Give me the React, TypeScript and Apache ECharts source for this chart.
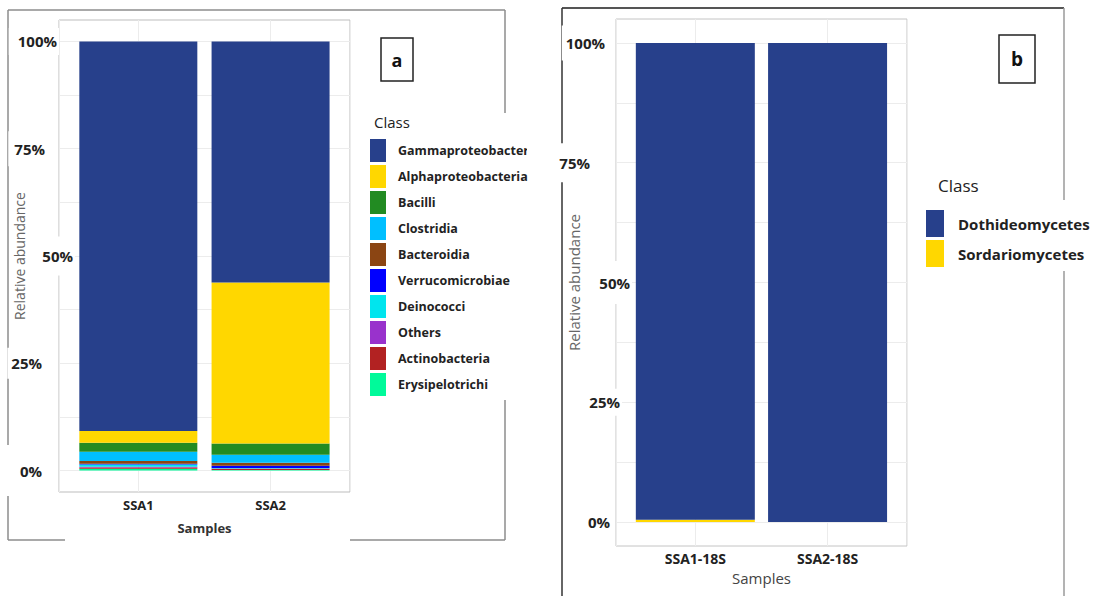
import React, { useEffect, useRef } from 'react';
import * as echarts from 'echarts';

// ---------- data ----------
const classesA = [
  'Gammaproteobacteria',
  'Alphaproteobacteria',
  'Bacilli',
  'Clostridia',
  'Bacteroidia',
  'Verrucomicrobiae',
  'Deinococci',
  'Others',
  'Actinobacteria',
  'Erysipelotrichi',
];
const colorsA = ['#27408B', '#FFD700', '#228B22', '#00BFFF', '#8B4513', '#0000FF', '#00E5EE', '#9932CC', '#B22222', '#00FA9A'];
const samplesA = ['SSA1', 'SSA2'];
const ssa1Values = [90.8, 2.7, 2.1, 2.2, 0.6, 0.2, 0.5, 0.2, 0.3, 0.4];
const ssa2Values = [56.2, 37.5, 2.6, 1.9, 0.7, 0.5, 0.1, 0.1, 0.3, 0.1];

const classesB = ['Dothideomycetes', 'Sordariomycetes'];
const colorsB = ['#27408B', '#FFD700'];
const samplesB = ['SSA1-18S', 'SSA2-18S'];
const ssa1_18sValues = [99.5, 0.5];
const ssa2_18sValues = [100, 0];

const yTickLabels = [0, 25, 50, 75, 100];
const yGridValues = [0, 12.5, 25, 37.5, 50, 62.5, 75, 87.5, 100];

// ---------- helpers ----------
const FONT = 'Open Sans';

function sampleFormatter(samples: string[]) {
  return (v: number) => {
    const r = Math.round(v);
    if (Math.abs(v - r) > 1e-6) return '';
    return samples[r - 1] ?? '';
  };
}

function yLabelRich(spacers: Record<number, number>, pads: Record<number, number[]>) {
  const rich: any = {};
  yTickLabels.forEach((t) => {
    rich['t' + t] = {
      fontFamily: FONT,
      fontWeight: 'bold',
      fontSize: 15,
      color: '#222',
      backgroundColor: '#fff',
      padding: pads[t],
    };
    if (spacers[t] > 0) rich['s' + t] = { width: spacers[t], fontSize: 15 };
  });
  return rich;
}

function yFormatter(spacers: Record<number, number>) {
  return (v: number) => {
    const r = Math.round(v);
    const sp = spacers[r] > 0 ? `{s${r}| }` : '';
    return `{t${r}|${r}%}${sp}`;
  };
}

const spacersA: Record<number, number> = { 0: 31, 25: 31, 50: 0, 75: 28, 100: 16 };
const padsA: Record<number, number[]> = {
  0: [18, 2, 18, 14],
  25: [8, 2, 8, 4],
  50: [12, 2, 12, 2],
  75: [10, 2, 10, 6],
  100: [6, 2, 6, 9],
};
const spacersB: Record<number, number> = { 0: 20, 25: 10, 50: 0, 75: 40, 100: 25 };
const padsB: Record<number, number[]> = {
  0: [4, 2, 4, 2],
  25: [6, 2, 6, 2],
  50: [14, 2, 14, 2],
  75: [12, 2, 12, 6],
  100: [10, 2, 10, 4],
};

export default function App() {
  const ref = useRef<HTMLDivElement>(null);

  useEffect(() => {
    if (!ref.current) return;
    const chart = echarts.init(ref.current, undefined, { renderer: 'svg' });

    const seriesA = classesA
      .map((name, i) => ({
        name,
        type: 'bar',
        xAxisIndex: 2,
        yAxisIndex: 2,
        stack: 'a',
        barWidth: 118,
        itemStyle: { color: colorsA[i] },
        data: [ssa1Values[i], ssa2Values[i]],
      }))
      .reverse();

    const seriesB = classesB
      .map((name, i) => ({
        name,
        type: 'bar',
        xAxisIndex: 3,
        yAxisIndex: 3,
        stack: 'b',
        barWidth: 119,
        itemStyle: { color: colorsB[i] },
        data: [ssa1_18sValues[i], ssa2_18sValues[i]],
      }))
      .reverse();

    const gridLine = { show: true, lineStyle: { color: '#ececec', width: 1 } };

    const makeX = (gridIndex: number, samples: string[], labelSize: number, nameStyle: any, nameGap: number, labelMargin: number) => ({
      type: 'value',
      gridIndex,
      min: 0.4,
      max: 2.6,
      splitNumber: 2,
      axisLine: { show: false },
      axisTick: { show: false },
      splitLine: gridLine,
      axisLabel: {
        formatter: sampleFormatter(samples),
        fontFamily: FONT,
        fontWeight: 'bold',
        fontSize: labelSize,
        color: '#222',
        margin: labelMargin,
      },
      name: 'Samples',
      nameLocation: 'middle',
      nameGap,
      nameMoveOverlap: false,
      nameTextStyle: nameStyle,
    });

    const makeY = (gridIndex: number, spacers: any, pads: any, nameGap: number, nameSize: number) => ({
      type: 'value',
      gridIndex,
      min: -5,
      max: 105,
      axisLine: { show: false },
      axisTick: { show: false, customValues: yGridValues },
      splitLine: gridLine,
      axisLabel: {
        customValues: yTickLabels,
        formatter: yFormatter(spacers),
        rich: yLabelRich(spacers, pads),
        margin: -16,
      },
      name: 'Relative abundance',
      nameLocation: 'middle',
      nameGap,
      nameMoveOverlap: false,
      nameTextStyle: { fontFamily: FONT, fontSize: nameSize, color: '#666' },
    });

    const barX = (gridIndex: number, samples: string[]) => ({
      type: 'category',
      gridIndex,
      data: samples,
      show: false,
    });
    const barY = (gridIndex: number) => ({
      type: 'value',
      gridIndex,
      min: -5,
      max: 105,
      show: false,
      splitLine: { show: false },
    });

    const frameLine = (x1: number, y1: number, x2: number, y2: number, color: string, w: number) => ({
      type: 'line',
      z: -1,
      shape: { x1, y1, x2, y2 },
      style: { stroke: color, lineWidth: w },
      silent: true,
    });

    chart.setOption({
      animation: false,
      backgroundColor: '#fff',
      textStyle: { fontFamily: FONT },
      title: [
        { text: 'Class', left: 369, top: 109, textStyle: { fontFamily: FONT, fontSize: 15, fontWeight: 'normal', color: '#222' } },
        { text: 'Class', left: 933, top: 172, textStyle: { fontFamily: FONT, fontSize: 17, fontWeight: 'normal', color: '#222' } },
      ],
      grid: [
        { left: 59, top: 20, width: 291, height: 472, show: true, borderColor: '#bdbdbd', borderWidth: 1, backgroundColor: 'transparent', outerBoundsMode: 'none', containLabel: false },
        { left: 616, top: 19, width: 291, height: 527, show: true, borderColor: '#c4c4c4', borderWidth: 1, backgroundColor: 'transparent', outerBoundsMode: 'none', containLabel: false },
        { left: 72.2, top: 20, width: 264.5, height: 472, outerBoundsMode: 'none', containLabel: false },
        { left: 629.2, top: 19, width: 264.5, height: 527, outerBoundsMode: 'none', containLabel: false },
      ],
      xAxis: [
        makeX(0, samplesA, 13, { fontFamily: FONT, fontSize: 13, fontWeight: 'bold', color: '#333' }, 29, 6),
        makeX(1, samplesB, 14, { fontFamily: FONT, fontSize: 15, fontWeight: 'normal', color: '#444' }, 24, 5),
        barX(2, samplesA),
        barX(3, samplesB),
      ],
      yAxis: [makeY(0, spacersA, padsA, 33, 14), makeY(1, spacersB, padsB, 35, 15), barY(2), barY(3)],
      legend: [
        {
          data: classesA,
          orient: 'vertical',
          left: 366,
          top: 113,
          padding: [26, 4, 4, 4],
          itemWidth: 16,
          itemHeight: 23,
          itemGap: 3,
          icon: 'rect',
          selectedMode: false,
          backgroundColor: '#fff',
          textStyle: { fontFamily: FONT, fontSize: 12.5, fontWeight: 'bold', color: '#222', padding: [0, 0, 0, 7] },
        },
        {
          data: classesB,
          orient: 'vertical',
          left: 922,
          top: 200,
          padding: [10, 4, 4, 4],
          itemWidth: 18,
          itemHeight: 27,
          itemGap: 3,
          icon: 'rect',
          selectedMode: false,
          backgroundColor: '#fff',
          textStyle: { fontFamily: FONT, fontSize: 15, fontWeight: 'bold', color: '#222', padding: [0, 0, 0, 9] },
        },
      ],
      graphic: [
        // panel a frame
        frameLine(8, 10, 505, 10, '#8c8c8c', 1.5),
        frameLine(8, 10, 8, 540, '#8c8c8c', 1.5),
        frameLine(505, 10, 505, 540, '#8c8c8c', 1.5),
        frameLine(8, 540, 65, 540, '#8c8c8c', 1.5),
        frameLine(350, 540, 505, 540, '#8c8c8c', 1.5),
        // panel b frame
        frameLine(562, 8, 1064, 8, '#555', 2),
        frameLine(562, 8, 562, 596, '#333', 1.5),
        frameLine(1064, 8, 1064, 596, '#9a9a9a', 1.5),
        // panel letter boxes
        { type: 'rect', z: 10, shape: { x: 381, y: 38, width: 32, height: 43 }, style: { fill: '#fff', stroke: '#222', lineWidth: 1.5 } },
        { type: 'text', z: 11, x: 397, y: 60, style: { text: 'a', fontFamily: FONT, fontSize: 18, fontWeight: 'bold', fill: '#111', align: 'center', verticalAlign: 'middle' } },
        { type: 'rect', z: 10, shape: { x: 999, y: 35, width: 36, height: 48 }, style: { fill: '#fff', stroke: '#222', lineWidth: 1.5 } },
        { type: 'text', z: 11, x: 1017, y: 59, style: { text: 'b', fontFamily: FONT, fontSize: 19, fontWeight: 'bold', fill: '#111', align: 'center', verticalAlign: 'middle' } },
        // white strip where panel b's image overlaps the legend of panel a
        { type: 'rect', z: 100, shape: { x: 527, y: 135, width: 29, height: 38 }, style: { fill: '#fff' }, silent: true },
      ],
      series: [...seriesA, ...seriesB],
    });

    return () => chart.dispose();
  }, []);

  return <div ref={ref} style={{ position: 'fixed', left: 0, top: 0, width: 1096, height: 596 }} />;
}
